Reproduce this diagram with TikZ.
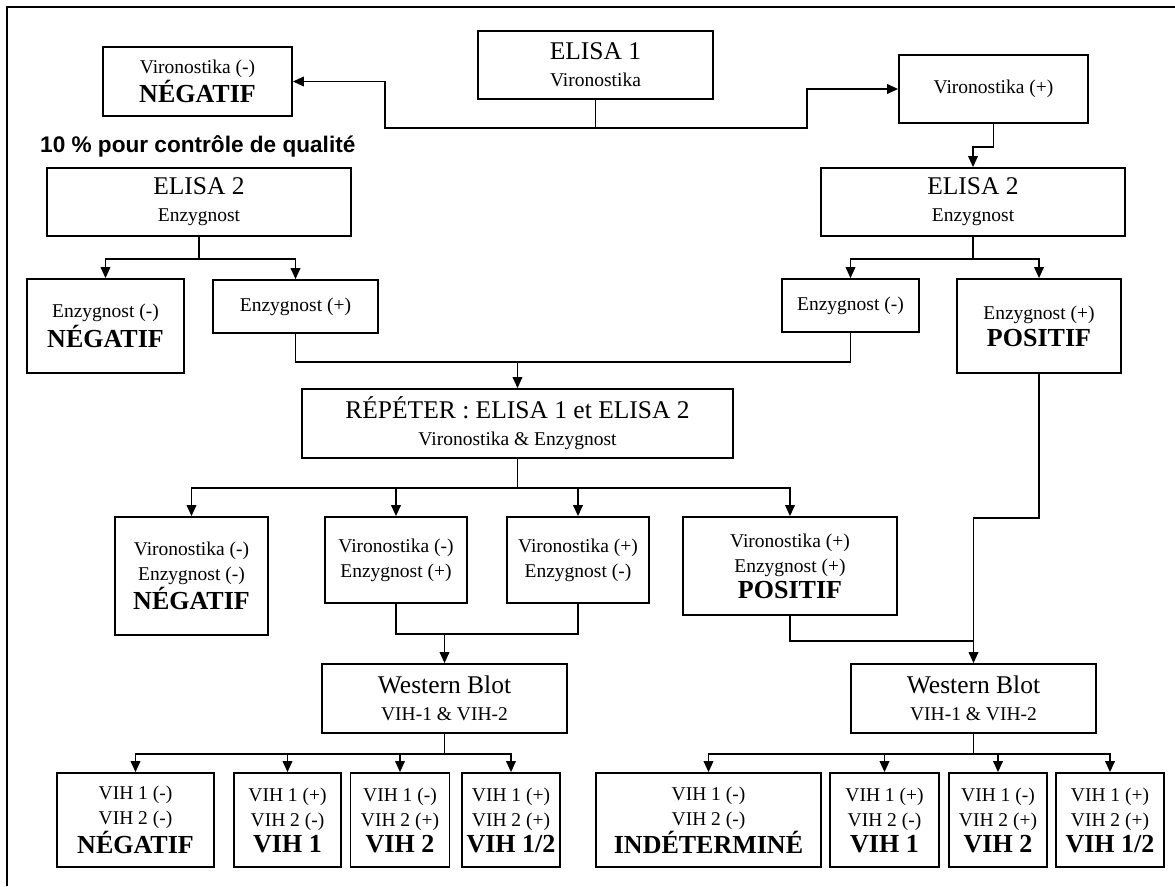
\documentclass[tikz,border=0pt]{standalone}
\usepackage{fontspec}
\setmainfont{Liberation Serif}
\newfontfamily\qfam{Liberation Sans}
\usetikzlibrary{arrows.meta}
\newcommand\smf{\fontsize{19.5}{25}\selectfont}
\newcommand\lgf{\fontsize{25.5}{28}\selectfont}
\newcommand\bdf{\fontsize{26}{27}\selectfont\bfseries}
\begin{document}
\begin{tikzpicture}[x=1pt,y=-1pt,
  box/.style={draw, line width=1.7pt, inner sep=0pt, align=center, font=\smf},
  arr/.style={line width=1.8pt, -{Triangle[length=11pt,width=9.5pt]}},
  ln/.style={line width=1.8pt}]
\useasboundingbox (0,0) rectangle (1175,886);
\draw[line width=2.8pt] (7,886) -- (7,7) -- (1175,7);

% top
\node[box, minimum width=235pt, minimum height=68pt] (e1) at (595.5,65) {{\lgf ELISA 1}\\[2pt]Vironostika};
\node[box, minimum width=189pt, minimum height=69pt] (negA) at (197.5,81.5) {Vironostika (-)\\[1pt]{\bdf NÉGATIF}};
\node[box, minimum width=189pt, minimum height=68pt] (virP) at (993.5,89) {Vironostika (+)};
\node[anchor=west, inner sep=0pt, font=\qfam\bfseries\fontsize{22.6}{26}\selectfont] (qnote) at (40,146) {10 \% pour contrôle de qualité};

% ELISA 2
\node[box, minimum width=304pt, minimum height=68pt] (e2L) at (199,202) {{\lgf ELISA 2}\\[2pt]Enzygnost};
\node[box, minimum width=304pt, minimum height=68pt] (e2R) at (973,202) {{\lgf ELISA 2}\\[2pt]Enzygnost};

\node[box, minimum width=157pt, minimum height=94pt] (enzNegL) at (105.5,326) {Enzygnost (-)\\[2pt]{\bdf NÉGATIF}};
\node[box, minimum width=165pt, minimum height=53pt] (enzPosL) at (295.5,306.5) {Enzygnost (+)};
\node[box, minimum width=137pt, minimum height=53pt] (enzNegR) at (850.5,305.5) {Enzygnost (-)};
\node[box, minimum width=164pt, minimum height=94pt] (enzPosR) at (1039,326) {Enzygnost (+)\\[2pt]{\bdf POSITIF}};

% repeat
\node[box, minimum width=431pt, minimum height=69pt] (rep) at (517.5,423.5) {{\lgf RÉPÉTER : ELISA 1 et ELISA 2}\\[2pt]Vironostika \& Enzygnost};

\node[box, minimum width=153pt, minimum height=118pt] (m1) at (191.5,576) {Vironostika (-)\\Enzygnost (-)\\[1pt]{\bdf NÉGATIF}};
\node[box, minimum width=142pt, minimum height=86pt] (m2) at (396,560) {Vironostika (-)\\Enzygnost (+)};
\node[box, minimum width=142pt, minimum height=86pt] (m3) at (578,560) {Vironostika (+)\\Enzygnost (-)};
\node[box, minimum width=214pt, minimum height=98pt] (m4) at (790,566) {Vironostika (+)\\Enzygnost (+)\\[1pt]{\bdf POSITIF}};

% western blot
\node[box, minimum width=245pt, minimum height=69pt] (wbL) at (444.5,698.5) {{\lgf Western Blot}\\[2pt]VIH-1 \& VIH-2};
\node[box, minimum width=245pt, minimum height=69pt] (wbR) at (973.5,698.5) {{\lgf Western Blot}\\[2pt]VIH-1 \& VIH-2};

\node[box, minimum width=157pt, minimum height=94pt] (b1) at (135.5,820) {VIH 1 (-)\\VIH 2 (-)\\[1pt]{\bdf NÉGATIF}};
\node[box, minimum width=107pt, minimum height=94pt] (b2) at (287.5,820) {VIH 1 (+)\\VIH 2 (-)\\[1pt]{\bdf VIH 1}};
\node[box, minimum width=99pt, minimum height=94pt] (b3) at (400,820) {VIH 1 (-)\\VIH 2 (+)\\[1pt]{\bdf VIH 2}};
\node[box, minimum width=98pt, minimum height=94pt] (b4) at (511,820) {VIH 1 (+)\\VIH 2 (+)\\[1pt]{\bdf VIH 1/2}};

\node[box, minimum width=225pt, minimum height=94pt] (c1) at (708.5,820) {VIH 1 (-)\\VIH 2 (-)\\[1pt]{\bdf INDÉTERMINÉ}};
\node[box, minimum width=109pt, minimum height=94pt] (c2) at (884.5,820) {VIH 1 (+)\\VIH 2 (-)\\[1pt]{\bdf VIH 1}};
\node[box, minimum width=98pt, minimum height=94pt] (c3) at (998,820) {VIH 1 (-)\\VIH 2 (+)\\[1pt]{\bdf VIH 2}};
\node[box, minimum width=108pt, minimum height=94pt] (c4) at (1110,820) {VIH 1 (+)\\VIH 2 (+)\\[1pt]{\bdf VIH 1/2}};

% connectors
\draw[arr] (e1.south) |- (385,128) |- (negA.east);
\draw[arr] (e1.south) |- (807,128) |- (virP.west);
\draw[arr] (virP.south) -- ++(0,23) -| (e2R.north);

\draw[arr] (e2L.south) -- ++(0,22) -| (enzNegL.north);
\draw[arr] (e2L.south) -- ++(0,22) -| (enzPosL.north);
\draw[arr] (e2R.south) -- ++(0,22) -| (enzNegR.north);
\draw[arr] (e2R.south) -- ++(0,22) -| (enzPosR.north);

\draw[ln] (enzPosL.south) -- ++(0,28) coordinate (h1) -| (enzNegR.south);
\draw[arr] (h1 -| rep.north) -- (rep.north);

\draw[arr] (rep.south) -- ++(0,29) -| (m1.north);
\draw[arr] (rep.south) -- ++(0,29) -| (m2.north);
\draw[arr] (rep.south) -- ++(0,29) -| (m3.north);
\draw[arr] (rep.south) -- ++(0,29) -| (m4.north);

\draw[ln] (m2.south) -- ++(0,30) coordinate (h2) -| (m3.south);
\draw[arr] (h2 -| wbL.north) -- (wbL.north);

\draw[arr] (enzPosR.south) -- ++(0,144) -| (wbR.north);
\draw[ln] (m4.south) -- ++(0,25) coordinate (h3) -- (h3 -| wbR.north);

\draw[arr] (wbL.south) -- ++(0,20) -| (b1.north);
\draw[arr] (wbL.south) -- ++(0,20) -| (b2.north);
\draw[arr] (wbL.south) -- ++(0,20) -| (b3.north);
\draw[arr] (wbL.south) -- ++(0,20) -| (b4.north);

\draw[arr] (wbR.south) -- ++(0,20) -| (c1.north);
\draw[arr] (wbR.south) -- ++(0,20) -| (c2.north);
\draw[arr] (wbR.south) -- ++(0,20) -| (c3.north);
\draw[arr] (wbR.south) -- ++(0,20) -| (c4.north);
\end{tikzpicture}
\end{document}
